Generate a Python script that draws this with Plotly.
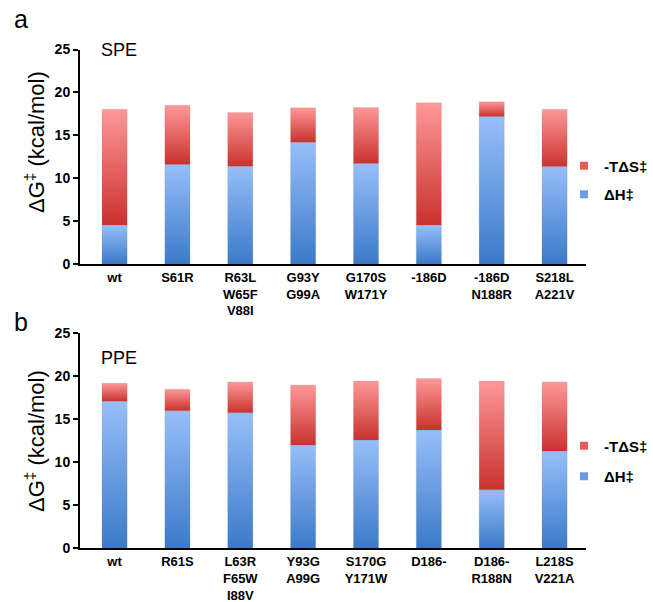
import plotly.graph_objects as go

spe_labels = ["wt", "S61R", "R63L<br>W65F<br>V88I", "G93Y<br>G99A", "G170S<br>W171Y",
              "-186D", "-186D<br>N188R", "S218L<br>A221V"]
spe_dH = [4.55, 11.6, 11.4, 14.2, 11.7, 4.55, 17.2, 11.35]
spe_mTdS = [13.5, 6.9, 6.25, 4.0, 6.55, 14.25, 1.7, 6.7]

ppe_labels = ["wt", "R61S", "L63R<br>F65W<br>I88V", "Y93G<br>A99G", "S170G<br>Y171W",
              "D186-", "D186-<br>R188N", "L218S<br>V221A"]
ppe_dH = [17.1, 16.0, 15.75, 12.0, 12.6, 13.75, 6.8, 11.3]
ppe_mTdS = [2.1, 2.5, 3.6, 7.0, 6.85, 6.0, 12.65, 8.05]

y_ticks = [0, 5, 10, 15, 20, 25]

BLUE = [[0, "#3B7AC9"], [1, "#97BEF9"]]
RED = [[0, "#C9322E"], [1, "#FE9898"]]
HALF_W = 0.2
FONT = "Liberation Sans, Arial, sans-serif"
W, H = 653, 602

fig = go.Figure()


def add_panel(dH, mTdS, xa, ya, legend, tag):
    for i, (h, s) in enumerate(zip(dH, mTdS)):
        for base, top, cs in ((0, h, BLUE), (h, h + s, RED)):
            fig.add_trace(go.Scatter(
                x=[i - HALF_W, i + HALF_W, i + HALF_W, i - HALF_W, i - HALF_W],
                y=[base, base, top, top, base],
                mode="lines", fill="toself",
                fillgradient=dict(type="vertical", colorscale=cs),
                line=dict(width=0.6, color="rgba(120,120,120,0.25)"),
                showlegend=False, hoverinfo="skip",
                xaxis=xa, yaxis=ya))
    # legend-only entries
    fig.add_trace(go.Scatter(x=[None], y=[None], mode="markers", name="<b>-TΔS‡</b>",
                             marker=dict(symbol="square", size=8, color="#E45F5B"),
                             legendgroup=tag + "s",
                             xaxis=xa, yaxis=ya, legend=legend, legendrank=1))
    fig.add_trace(go.Scatter(x=[None], y=[None], mode="markers", name="<b>ΔH‡</b>",
                             marker=dict(symbol="square", size=8, color="#6B9CE4"),
                             legendgroup=tag + "h",
                             xaxis=xa, yaxis=ya, legend=legend, legendrank=2))


add_panel(spe_dH, spe_mTdS, "x", "y", "legend", "spe")
add_panel(ppe_dH, ppe_mTdS, "x2", "y2", "legend2", "ppe")

xdom = [80 / W, 586 / W]
axis_common = dict(showgrid=False, zeroline=False, showline=True, linecolor="black",
                   linewidth=2, automargin=False)
xfont = dict(family=FONT, size=13, color="black")
yfont = dict(family=FONT, size=14, color="black")


def yaxis(dom, anchor):
    return dict(domain=dom, range=[0, 25], tickvals=y_ticks,
                ticktext=[f"<b>{v}</b>" for v in y_ticks], ticks="outside", ticklen=5, tickwidth=2,
                tickcolor="black", anchor=anchor, tickfont=yfont, **axis_common)


def xaxis(labels, anchor):
    return dict(domain=xdom, range=[-0.55, 7.5], tickvals=list(range(8)),
                ticktext=[f"<b>{t}</b>" for t in labels], ticks="", anchor=anchor,
                tickfont=xfont, **axis_common)


def legend(ymid, gap):
    return dict(x=564 / W, y=1 - ymid / H, xanchor="left", yanchor="middle",
                font=dict(family=FONT, size=15, color="black"),
                itemwidth=30, tracegroupgap=gap, bgcolor="rgba(0,0,0,0)")


def ann(text, x, y, size, angle=0, xanchor="center"):
    return dict(text=text, x=x / W, y=1 - y / H, xref="paper", yref="paper", showarrow=False,
                font=dict(family=FONT, size=size, color="black"), textangle=angle,
                xanchor=xanchor, yanchor="middle")


fig.update_layout(
    width=W, height=H,
    margin=dict(l=0, r=0, t=0, b=0, autoexpand=False),
    plot_bgcolor="white", paper_bgcolor="white",
    font=dict(family=FONT, color="black"),
    xaxis=xaxis(spe_labels, "y"),
    yaxis=yaxis([1 - 264 / H, 1 - 49.5 / H], "x"),
    xaxis2=xaxis(ppe_labels, "y2"),
    yaxis2=yaxis([1 - 548.3 / H, 1 - 333.3 / H], "x2"),
    legend=legend(180, 6),
    legend2=legend(461, 8),
    annotations=[
        ann("a", 21, 19, 25),
        ann("b", 21, 322, 25),
        ann("SPE", 99, 50, 18, xanchor="left"),
        ann("PPE", 99, 358, 18, xanchor="left"),
        ann("ΔG<sup>‡</sup> (kcal/mol)", 35, 142, 22, angle=-90),
        ann("ΔG<sup>‡</sup> (kcal/mol)", 35, 441, 22, angle=-90),
    ],
)

fig.write_html("out.html", config={"displayModeBar": False},
               post_script="document.body.style.margin='0px';")
